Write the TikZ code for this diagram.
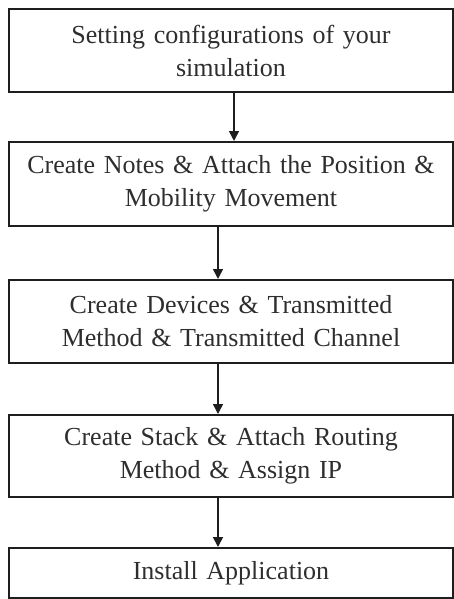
\documentclass[tikz,border=0pt]{standalone}
\usepackage{fontspec}
\setmainfont{Liberation Serif}[WordSpace=0.85]
\usetikzlibrary{arrows.meta}
\definecolor{txt}{HTML}{2E2E2E}
\definecolor{edge}{HTML}{1E1E1E}
\begin{document}
\begin{tikzpicture}[x=1pt,y=-1pt,
  stepbox/.style={draw=edge,line width=2pt,minimum width=444pt,inner sep=0pt,
    text width=440pt,align=center,text=txt,
    font=\fontsize{26}{33}\selectfont},
  arr/.style={draw=edge,line width=1.6pt,-{Triangle[width=10pt,length=10pt]}}]
\useasboundingbox (0,0) rectangle (454,599);
\node[stepbox,minimum height=83pt] (b1) at (231,50.5) {Setting configurations of your\\simulation};
\node[stepbox,minimum height=84pt] (b2) at (231,184) {Create Notes \& Attach the Position \&\\Mobility Movement};
\node[stepbox,minimum height=83pt] (b3) at (231,321.5) {Create Devices \& Transmitted\\Method \& Transmitted Channel};
\node[stepbox,minimum height=82pt] (b4) at (231,456) {Create Stack \& Attach Routing\\Method \& Assign IP};
\node[stepbox,minimum height=50pt] (b5) at (231,573) {Install Application};
\draw[arr] ([xshift=3pt]b1.south) -- ([xshift=3pt]b1.south |- b2.north);
\draw[arr] ([xshift=-13pt]b2.south) -- ([xshift=-13pt]b2.south |- b3.north);
\draw[arr] ([xshift=-13pt]b3.south) -- ([xshift=-13pt]b3.south |- b4.north);
\draw[arr] ([xshift=-13pt]b4.south) -- ([xshift=-13pt]b4.south |- b5.north);
\end{tikzpicture}
\end{document}
